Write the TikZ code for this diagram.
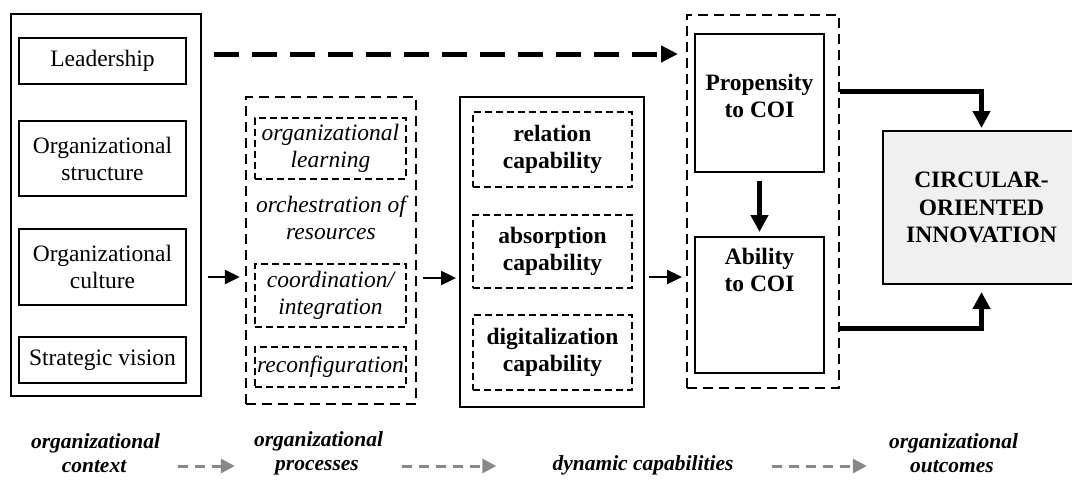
\documentclass[tikz,border=0pt]{standalone}
\usepackage{fontspec}
\setmainfont{Liberation Serif}
\usetikzlibrary{arrows.meta}
\definecolor{legendgray}{RGB}{136,136,136}
\definecolor{outfill}{RGB}{240,240,240}
\begin{document}
\begin{tikzpicture}[x=1pt,y=-1pt,
  txt/.style={font=\fontsize{23.5pt}{27pt}\selectfont, align=center},
  solidbox/.style={draw, line width=2pt, inner sep=0pt, txt},
  thindash/.style={draw, line width=1.3pt, dash pattern=on 7pt off 4pt, inner sep=0pt, txt},
  groupdash/.style={draw, line width=2.4pt, dash pattern=on 10pt off 6pt, inner sep=0pt},
  flow/.style={line width=2.4pt, -{Triangle[length=15pt,width=14pt]}},
  strong/.style={line width=5pt, -{Triangle[length=17pt,width=17pt]}},
  linkdash/.style={line width=5pt, dash pattern=on 25pt off 13pt, -{Triangle[length=17pt,width=16pt]}},
  legend/.style={font=\fontsize{21.5pt}{24pt}\selectfont\bfseries\itshape, align=center, inner sep=0pt},
  legendarrow/.style={draw=legendgray, line width=3pt, dash pattern=on 10pt off 7pt,
    -{Triangle[length=14pt,width=14pt,fill=legendgray]}},
]
\useasboundingbox (0,0) rectangle (1072,485);

% organizational context
\node[solidbox, minimum width=190pt, minimum height=382pt] (ctx) at (106,205) {};
\node[solidbox, minimum width=167pt, minimum height=46pt] (lead) at (102.5,61) {Leadership};
\node[solidbox, minimum width=167pt, minimum height=75pt] (struct) at (102.5,158.5) {Organizational\\structure};
\node[solidbox, minimum width=167pt, minimum height=76pt] (cult) at (102.5,267) {Organizational\\culture};
\node[solidbox, minimum width=167pt, minimum height=46pt] (vis) at (102.5,360) {Strategic vision};

% organizational processes
\node[groupdash, minimum width=170pt, minimum height=307pt] (proc) at (331,250.5) {};
\node[thindash, minimum width=151pt, minimum height=61pt] (learn) at (330.5,148.5) {\itshape organizational\\\itshape learning};
\node[txt, inner sep=0pt] (orch) at (331,218) {\itshape orchestration of\\\itshape resources};
\node[thindash, minimum width=151pt, minimum height=63pt] (coord) at (330.5,295.5) {\itshape coordination/\\\itshape integration};
\node[thindash, minimum width=151pt, minimum height=40pt] (reconf) at (330.5,367) {\itshape reconfiguration};

% dynamic capabilities
\node[solidbox, minimum width=184pt, minimum height=310pt] (caps) at (552,252) {};
\node[thindash, minimum width=159pt, minimum height=75pt] (rel) at (552.5,149.5) {\bfseries relation\\\bfseries capability};
\node[thindash, minimum width=159pt, minimum height=73pt] (abs) at (552.5,251.5) {\bfseries absorption\\\bfseries capability};
\node[thindash, minimum width=159pt, minimum height=75pt] (dig) at (552.5,352.5) {\bfseries digitalization\\\bfseries capability};

% propensity and ability
\node[draw, line width=2pt, dash pattern=on 10pt off 6pt, minimum width=152pt, minimum height=373pt] (coi) at (763,201.5) {};
\node[solidbox, minimum width=129pt, minimum height=138pt] (prop) at (759.5,103) {};
\node[txt, font=\fontsize{23.5pt}{27pt}\selectfont\bfseries, inner sep=0pt] (propt) at (759.5,96) {Propensity\\to COI};
\node[solidbox, minimum width=129pt, minimum height=136pt] (abil) at (759.5,305) {};
\node[txt, font=\fontsize{23.5pt}{27pt}\selectfont\bfseries, inner sep=0pt] (abilt) at (759.5,270) {Ability\\to COI};

% outcome
\node[solidbox, fill=outfill, minimum width=197pt, minimum height=153pt,
  font=\fontsize{23.5pt}{27.5pt}\selectfont\bfseries] (out) at (981.5,207.5) {CIRCULAR-\\ORIENTED\\INNOVATION};

% connectors
\draw[linkdash, shorten <=27pt, shorten >=8pt] (lead.east |- 0,54) -- (coi.west |- 0,54);
\draw[flow, shorten <=6pt, shorten >=5pt] (ctx.east |- 0,277) -- (proc.west |- 0,277);
\draw[flow, shorten <=6pt, shorten >=3pt] (proc.east |- 0,278) -- (caps.west |- 0,278);
\draw[flow, shorten <=4pt, shorten >=4pt] (caps.east |- 0,277) -- (coi.west |- 0,277);
\draw[strong, shorten <=8pt, shorten >=4pt] (prop.south) -- (abil.north);
\draw[strong, shorten >=2pt] (coi.east |- 0,91) -| (out.north);
\draw[strong, shorten >=7pt] (coi.east |- 0,328) -| (out.south);

% legend
\node[legend, text width=126pt] (lctx) at (94,453) {organizational\\context};
\node[legend, text width=126pt] (lproc) at (317,453) {organizational\\processes};
\node[legend, minimum width=174pt] (ldyn) at (643,465) {dynamic capabilities};
\node[legend, text width=126pt] (lout) at (952,453) {organizational\\outcomes};
\draw[legendarrow, shorten <=21pt, shorten >=19pt] (lctx.east |- 0,466) -- (lproc.west |- 0,466);
\draw[legendarrow, shorten <=22pt, shorten >=56pt] (lproc.east |- 0,466) -- (ldyn.west |- 0,466);
\draw[legendarrow, shorten <=38pt, shorten >=22pt] (ldyn.east |- 0,466) -- (lout.west |- 0,466);
\end{tikzpicture}
\end{document}
